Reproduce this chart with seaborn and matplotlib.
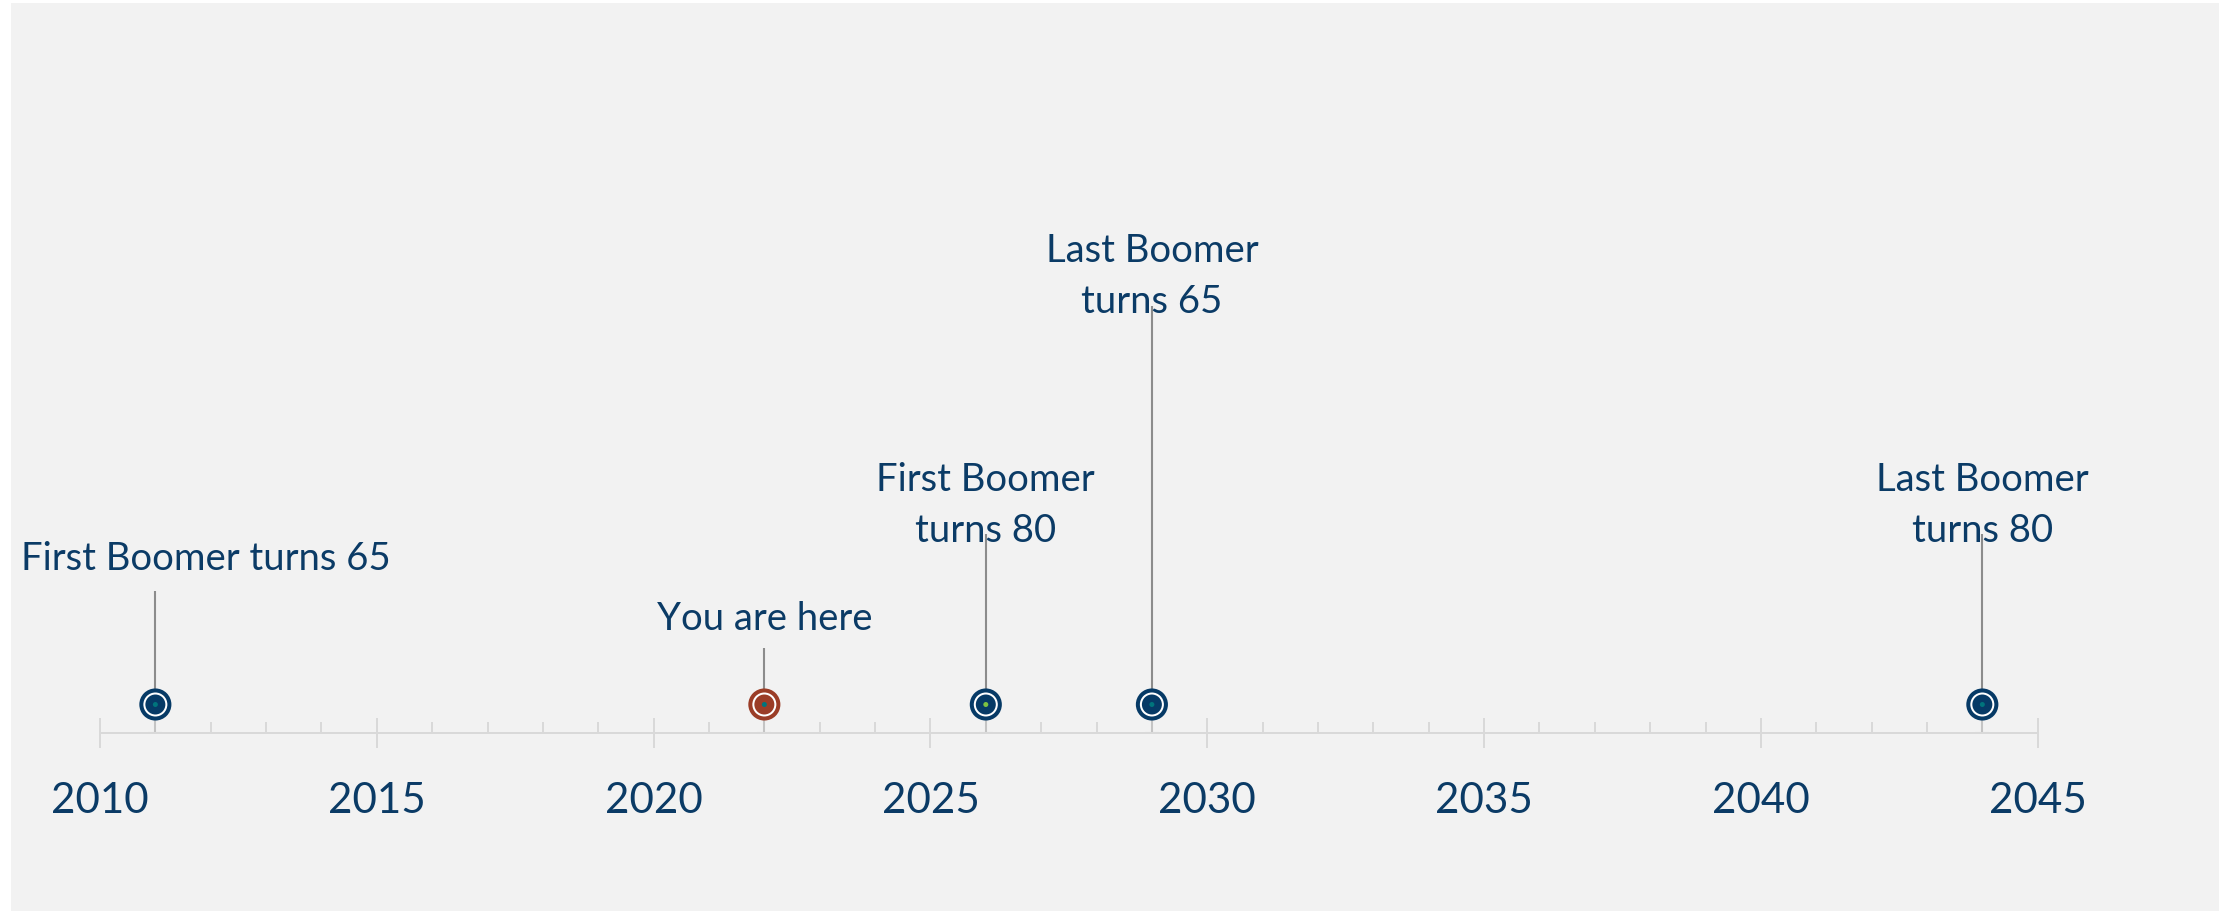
import matplotlib
matplotlib.use("Agg")
import matplotlib.pyplot as plt
from matplotlib.patches import Rectangle
from matplotlib.ticker import MultipleLocator
import seaborn as sns
import pandas as pd

# ---- data ----
years = [2011, 2022, 2026, 2029, 2044]
heights = [20, 10, 30, 70, 30]
labels = ["First Boomer turns 65", "You are here", "First Boomer\nturns 80",
          "Last Boomer\nturns 65", "Last Boomer\nturns 80"]
kinds = ["milestone", "today", "milestone", "milestone", "milestone"]
tick_years = [2010, 2015, 2020, 2025, 2030, 2035, 2040, 2045]
tick_labels = ["2010", "2015", "2020", "2025", "2030", "2035", "2040", "2045"]

# ---- style ----
NAVY = "#063a66"
TEXT = "#0b3b66"
RUST = "#9b3d27"
TEAL = "#00747c"
GREEN = "#7cc242"
GRID = "#d9d9d9"
STEM = "#8c8c8c"
ring_pal = {"milestone": NAVY, "today": RUST}
dot_colors = [TEAL, TEAL, GREEN, TEAL, TEAL]
label_dx = [0.92, 0, 0, 0, 0]            # horizontal nudge of label (years)
label_dy = [3.7, 3.3, -1.4, -1.1, -1.4]  # baseline of last label line vs stem top

sns.set_theme(style="white")
plt.rcParams["font.family"] = ["Lato", "DejaVu Sans"]

W, H = 2231, 912
fig = plt.figure(figsize=(W / 100, H / 100), dpi=100, facecolor="white")
fig.add_artist(Rectangle((11 / W, 0), (2219 - 11) / W, (912 - 4) / H,
                         transform=fig.transFigure, facecolor="#f2f2f2",
                         edgecolor="none", zorder=0))

ax = fig.add_axes([100 / W, (912 - 734) / H, (2037.7 - 100) / W, (734 - 78.5) / H])
ax.set_facecolor("none")
ax.set_xlim(2010, 2045)
ax.set_ylim(-5, 110)

df = pd.DataFrame({"year": years, "height": heights, "label": labels, "kind": kinds})
df["base"] = 0

# stems
ax.vlines(df["year"], df["base"], df["height"], color=STEM, lw=1.5, zorder=2)
ax.vlines(df["year"], -5, df["base"], color="#c4c4c4", lw=1.5, zorder=2)
sns.scatterplot(data=df.assign(axis=-5), x="year", y="axis", marker="_", s=90,
                color="#c4c4c4", linewidth=1.5, ax=ax, legend=False, zorder=2)

# outer ring
sns.scatterplot(data=df, x="year", y="base", hue="kind", palette=ring_pal,
                s=408, linewidth=2.9, ax=ax, legend=False, zorder=3)
ring = ax.collections[-1]
ring.set_edgecolor([ring_pal[k] for k in kinds])
ring.set_facecolor("white")
ring.set_linewidth(2.9)

# inner fill
sns.scatterplot(data=df, x="year", y="base", hue="kind", palette=ring_pal,
                s=207, linewidth=0, ax=ax, legend=False, zorder=4)
inner = ax.collections[-1]
inner.set_facecolor([ring_pal[k] for k in kinds])
inner.set_edgecolor("none")

# centre dot
sns.scatterplot(data=df, x="year", y="base", s=13, linewidth=0, ax=ax,
                legend=False, zorder=5)
dot = ax.collections[-1]
dot.set_facecolor(dot_colors)
dot.set_edgecolor("none")

# labels
for i, row in df.iterrows():
    ax.text(row["year"] + label_dx[i], row["height"] + label_dy[i], row["label"],
            ha="center", va="baseline", ma="center", fontsize=27.5,
            color=TEXT, linespacing=1.52, zorder=6)

# axis
for s in ["left", "right", "top"]:
    ax.spines[s].set_visible(False)
ax.spines["bottom"].set_color(GRID)
ax.spines["bottom"].set_linewidth(1.44)
ax.spines["bottom"].set_position(("data", -5))
ax.set_yticks([])
ax.set_xticks(tick_years, tick_labels)
ax.xaxis.set_minor_locator(MultipleLocator(1))
ax.tick_params(axis="x", which="both", bottom=True)
ax.tick_params(axis="x", which="major", direction="inout", length=21.6, width=1.44,
               color=GRID, labelsize=30.3, labelcolor=TEXT, pad=24)
ax.tick_params(axis="x", which="minor", direction="in", length=8, width=1.44, color=GRID)
ax.set_xlabel("")
ax.set_ylabel("")

fig.savefig("out.png", dpi=100, facecolor="white")
